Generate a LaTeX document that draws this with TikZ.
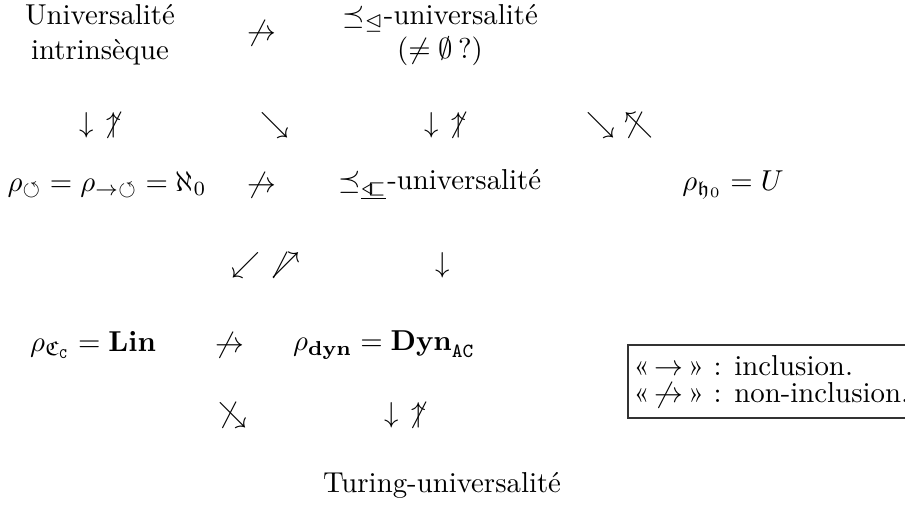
\documentclass[tikz,border=0pt]{standalone}
\usepackage{amsmath,amssymb}
\tikzset{
  lbl/.style={inner sep=0pt, align=center, font=\normalsize},
  legendbox/.style={draw=black!80, line width=0.5pt}
}
\newcommand{\trisq}{\mathrel{\underline{\triangleleft\mkern-4mu\sqsubset}}}
\newcommand{\nto}{\not\to}
\newcommand{\nup}{\not\mkern2mu\uparrow}
\begin{document}
\begin{tikzpicture}[x=0.3472pt, y=-0.3472pt]
\useasboundingbox (0,0) rectangle (905,508);
\clip (0,0) rectangle (905,508);
% row 1
\node[lbl] (ui) at (100,35) {Universalit\'e\\intrins\`eque};
\node[lbl] (n1) at (262,33) {$\nto$};
\node[lbl] (pu) at (440,35) {$\preceq_{\trianglelefteq}$-universalit\'e\\$(\neq\emptyset\,?)$};
% row 2
\node[lbl] (a21) at (100,125) {$\downarrow\ \nup$};
\node[lbl] (a22) at (275,125) {$\searrow$};
\node[lbl] (a23) at (445,125) {$\downarrow\ \nup$};
\node[lbl] (a24) at (620,125) {$\searrow\ \not\nwarrow$};
% row 3
\node[lbl] (rho) at (107,185) {$\rho_{\circlearrowleft}=\rho_{\to\circlearrowleft}=\aleph_0$};
\node[lbl] (n3) at (262,185) {$\nto$};
\node[lbl] (pq) at (440,185) {$\preceq_{\trisq}$-universalit\'e};
\node[lbl] (rh) at (733,185) {$\rho_{\mathfrak{h}_0}=U$};
% row 4
\node[lbl] (a41) at (266,265) {$\swarrow\ \not\mkern1mu\nearrow$};
\node[lbl] (a42) at (443,265) {$\downarrow$};
% row 5
\node[lbl] (lin) at (93,345) {$\rho_{\mathfrak{C}_{\mathtt{C}}}=\mathbf{Lin}$};
\node[lbl] (n5) at (230,345) {$\nto$};
\node[lbl] (dyn) at (384,345) {$\rho_{\mathbf{dyn}}=\mathbf{Dyn}_{\mathtt{AC}}$};
% row 6
\node[lbl] (a61) at (233,415) {$\not\searrow$};
\node[lbl] (a62) at (405,415) {$\downarrow\ \nup$};
% row 7
\node[lbl] (tu) at (442,485) {Turing-universalit\'e};
% legend
\draw[legendbox] (628,345) rectangle (920,418);
\node[anchor=west, inner sep=0pt] (l1) at (633,366) {«\,$\to$\,» : inclusion.};
\node[anchor=west, inner sep=0pt] (l2) at (633,395) {«\,$\nto$\,» : non-inclusion.};
\end{tikzpicture}
\end{document}
